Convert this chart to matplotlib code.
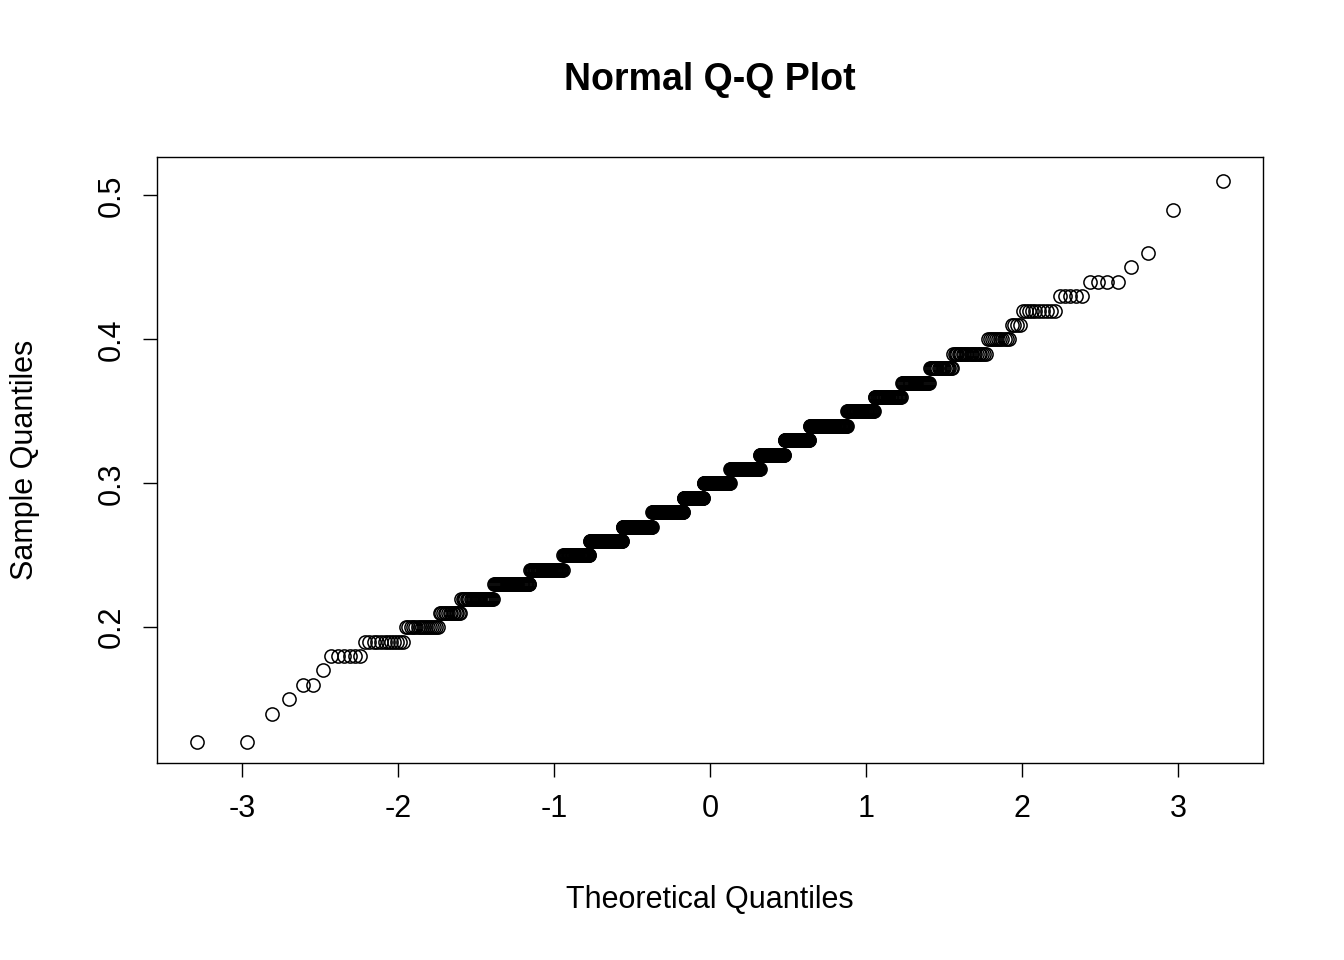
import matplotlib
matplotlib.use("Agg")
import matplotlib.pyplot as plt
import numpy as np
from statistics import NormalDist

values = [0.12,0.14,0.15,0.16,0.17,0.18,0.19,0.20,0.21,0.22,0.23,0.24,0.25,0.26,0.27,
          0.28,0.29,0.30,0.31,0.32,0.33,0.34,0.35,0.36,0.37,0.38,0.39,0.40,0.41,0.42,
          0.43,0.44,0.45,0.46,0.49,0.51]
counts = [2,1,1,2,1,6,12,16,14,28,41,49,47,67,68,77,51,68,74,58,55,72,44,36,30,20,22,
          11,4,10,5,4,1,1,1,1]

sample = np.repeat(values, counts)
n = len(sample)
nd = NormalDist()
theo = np.array([nd.inv_cdf((i - 0.5) / n) for i in range(1, n + 1)])

plt.rcParams['font.family'] = ['Liberation Sans', 'DejaVu Sans']
fig = plt.figure(figsize=(13.44, 9.6), dpi=100)
ax = fig.add_axes([0.1168, 0.205, 0.823, 0.631])
ax.plot(theo, np.sort(sample), 'o', mfc='none', mec='black', ms=9.5, mew=1.1)
ax.set_xlim(-3.545, 3.545)
ax.set_ylim(0.1056, 0.5264)
ax.set_xticks([-3,-2,-1,0,1,2,3])
ax.set_xticklabels(['-3','-2','-1','0','1','2','3'])
ax.set_yticks([0.2,0.3,0.4,0.5])
ax.set_yticklabels(['0.2','0.3','0.4','0.5'], rotation=90, va='center')
ax.tick_params(labelsize=22, length=10, width=1, pad=12)
for s in ax.spines.values():
    s.set_linewidth(1)
fig.text(710/1344, 1 - 900/960, 'Theoretical Quantiles', fontsize=22, ha='center', va='center')
fig.text(25/1344, 1 - 460/960, 'Sample Quantiles', fontsize=22, ha='center', va='center', rotation=90)
fig.text(710/1344, 1 - 80/960, 'Normal Q-Q Plot', fontsize=27, fontweight='bold', ha='center', va='center')
fig.savefig('out.png', dpi=100)
